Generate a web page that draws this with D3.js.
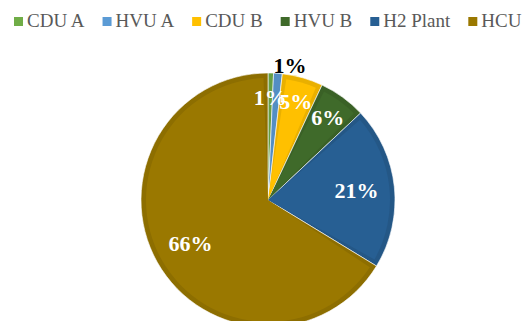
<!DOCTYPE html>
<html>
<head>
<meta charset="utf-8">
<script src="https://cdn.jsdelivr.net/npm/d3@7"></script>
<style>
  body { margin: 0; background: #fff; }
  svg text { font-family: "Liberation Serif", "Times New Roman", serif; }
</style>
</head>
<body>
<div id="chart"></div>
<script>
// unit shares (labels are rounded)
const units = ["CDU A", "HVU A", "CDU B", "HVU B", "H2 Plant", "HCU"];
const shares = [0.7, 1.1, 5.2, 6.0, 20.7, 66.3];
const labels = ["1%", "1%", "5%", "6%", "21%", "66%"];
const colors = ["#70ad47", "#5b9bd5", "#ffc000", "#3f6a2a", "#275f93", "#9a7800"];

const width = 528, height = 321;
const cx = 268, cy = 200, radius = 127;

const svg = d3.select("#chart").append("svg")
  .attr("width", width)
  .attr("height", height);

const data = units.map((u, i) => ({unit: u, value: shares[i], label: labels[i], color: colors[i]}));

const pie = d3.pie().sort(null).value(d => d.value);
const arcs = pie(data);

const arc = d3.arc().innerRadius(0).outerRadius(radius);
// inset arc gives the soft bevel seen on the slices
const inset = d3.arc().innerRadius(0).outerRadius(radius - 5)
  .padAngle(9 / radius).padRadius(radius);

const g = svg.append("g").attr("transform", `translate(${cx},${cy})`);

g.selectAll("path.base")
  .data(arcs)
  .join("path")
  .attr("class", "base")
  .attr("d", arc)
  .attr("fill", d => d3.color(d.data.color).darker(0.25))
  .attr("stroke", "#fff")
  .attr("stroke-width", 0.6);

g.selectAll("path.top")
  .data(arcs)
  .join("path")
  .attr("class", "top")
  .attr("d", inset)
  .attr("fill", d => d.data.color);

// label placement: big slices at 0.7r, small ones further out,
// second tiny slice in a row gets pushed outside the pie
let prevTiny = false;
arcs.forEach(d => {
  const frac = (d.endAngle - d.startAngle) / (2 * Math.PI);
  const mid = (d.startAngle + d.endAngle) / 2;
  let r = frac > 0.1 ? 0.7 : 0.8;
  d.outside = false;
  if (frac < 0.02) {
    if (prevTiny) { d.outside = true; r = 1.06; }
    prevTiny = true;
  } else prevTiny = false;
  d.lx = Math.sin(mid) * radius * r - (d.outside ? 5 : 0);
  d.ly = -Math.cos(mid) * radius * r;
});

g.selectAll("text.lbl")
  .data(arcs)
  .join("text")
  .attr("class", "lbl")
  .attr("x", d => d.lx)
  .attr("y", d => d.ly + 7)
  .attr("text-anchor", d => d.outside ? "start" : "middle")
  .attr("fill", d => d.outside ? "#000" : "#fff")
  .attr("font-size", 22)
  .attr("font-weight", "bold")
  .text(d => d.data.label);

// legend along the top
const legend = svg.append("g").attr("transform", "translate(14,0)");
let x = 0;
data.forEach(d => {
  const item = legend.append("g").attr("transform", `translate(${x},0)`);
  item.append("rect")
    .attr("x", 0).attr("y", 17)
    .attr("width", 9).attr("height", 9)
    .attr("fill", d.color);
  const t = item.append("text")
    .attr("x", 13).attr("y", 27)
    .attr("fill", "#595959")
    .attr("font-size", 19)
    .text(d.unit);
  x += 13 + t.node().getComputedTextLength() + 18;
});
</script>
</body>
</html>
